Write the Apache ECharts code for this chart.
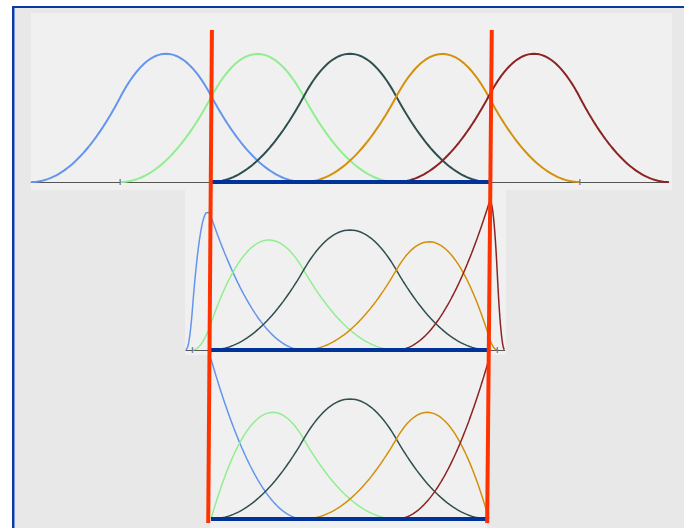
<!DOCTYPE html>
<html>
<head>
<meta charset="utf-8">
<script src="https://cdn.jsdelivr.net/npm/echarts@6/dist/echarts.min.js"></script>
<style>
  html, body { margin: 0; padding: 0; background: #ffffff; }
  #chart { width: 684px; height: 528px; }
</style>
</head>
<body>
<div id="chart"></div>
<script>
// Quadratic B-spline basis functions N0..N4 over three knot vectors.
const DEGREE = 2;
const basisNames = ['N0', 'N1', 'N2', 'N3', 'N4'];
const basisColors = ['#6495ed', '#90ee90', '#2f4f4f', '#d4900a', '#8b2323'];

// Knot vectors (parameter units); the valid domain is [0, 3].
const knotsUniform  = [-1.94, -0.98, 0, 1, 2, 3, 3.98, 4.94];
const knotsSqueezed = [-0.27, -0.2, 0, 1, 2, 3, 3.09, 3.17];
const knotsClamped  = [0, 0, 0, 1, 2, 3, 3, 3];
const domain = [0, 3];

// Domain boundary strokes spanning all three rows: [u, fraction of height].
const domainLeftEdge  = [[0.01, 1], [-0.03, 0]];
const domainRightEdge = [[3.03, 1], [2.98, 0]];

// Cox–de Boor recursion
function basis(knots, i, p, x) {
  if (p === 0) return (x >= knots[i] && x < knots[i + 1]) ? 1 : 0;
  let a = 0, b = 0;
  const d1 = knots[i + p] - knots[i];
  const d2 = knots[i + p + 1] - knots[i + 1];
  if (d1 > 0) a = (x - knots[i]) / d1 * basis(knots, i, p - 1, x);
  if (d2 > 0) b = (knots[i + p + 1] - x) / d2 * basis(knots, i + 1, p - 1, x);
  return a + b;
}

function curve(knots, i) {
  const lo = knots[i], hi = knots[i + DEGREE + 1];
  const n = 200, pts = [];
  for (let k = 0; k <= n; k++) {
    let x = lo + (hi - lo) * k / n;
    if (k === n) x = hi - 1e-9;
    pts.push([x, basis(knots, i, DEGREE, x)]);
  }
  return pts;
}

const PX_PER_U = 92.67, ORIGIN_X = 211;
function gridFor(minU, maxU, top, height) {
  return {
    left: ORIGIN_X + minU * PX_PER_U,
    width: (maxU - minU) * PX_PER_U,
    top: top, height: height,
    containLabel: false
  };
}

const rows = [
  { knots: knotsUniform,  top: 11,  height: 171, lw: 2,   axis: true,  ticks: true },
  { knots: knotsSqueezed, top: 190, height: 160, lw: 1.5, axis: true,  ticks: true },
  { knots: knotsClamped,  top: 359, height: 160, lw: 1.5, axis: false, ticks: false }
];

const grids = [], xAxes = [], yAxes = [], series = [];
rows.forEach((r, gi) => {
  const k = r.knots;
  grids.push(gridFor(k[0], k[k.length - 1], r.top, r.height));
  xAxes.push({
    type: 'value', gridIndex: gi, min: k[0], max: k[k.length - 1],
    axisLine: { show: r.axis, lineStyle: { color: '#555555', width: 1 } },
    axisTick: { show: false }, axisLabel: { show: false }, splitLine: { show: false }
  });
  yAxes.push({
    type: 'value', gridIndex: gi, min: 0, max: 1, show: false,
    splitLine: { show: false }
  });
  basisNames.forEach((name, i) => {
    series.push({
      name: name, type: 'line', xAxisIndex: gi, yAxisIndex: gi,
      data: curve(k, i), showSymbol: false, smooth: false, z: 3,
      lineStyle: { color: basisColors[i], width: r.lw }
    });
  });
  series.push({
    type: 'line', xAxisIndex: gi, yAxisIndex: gi, z: 4, showSymbol: false,
    data: [[domain[0], 0], [domain[1], 0]],
    lineStyle: { color: '#003399', width: 4 }
  });
  if (r.ticks) {
    series.push({
      type: 'scatter', xAxisIndex: gi, yAxisIndex: gi, z: 5,
      symbol: 'rect', symbolSize: [1.5, 6],
      itemStyle: { color: '#6a6aa8' },
      data: [[k[1], 0], [k[k.length - 2], 0]]
    });
  }
});

// Overlay grid for the full-height domain boundaries
grids.push(gridFor(-1, 4, 30, 493));
xAxes.push({ type: 'value', gridIndex: 3, min: -1, max: 4, show: false, splitLine: { show: false } });
yAxes.push({ type: 'value', gridIndex: 3, min: 0, max: 1, show: false, splitLine: { show: false } });
[domainLeftEdge, domainRightEdge].forEach(edge => {
  series.push({
    type: 'line', xAxisIndex: 3, yAxisIndex: 3, z: 6, showSymbol: false,
    data: edge, lineStyle: { color: '#ff3300', width: 4 }
  });
});

const chart = echarts.init(document.getElementById('chart'), null, { renderer: 'canvas' });
chart.setOption({
  animation: false,
  backgroundColor: '#ffffff',
  graphic: [
    { type: 'rect', z: -10, shape: { x: 13, y: 7, width: 700, height: 560 },
      style: { fill: '#e8e8e8', stroke: '#0b3a9c', lineWidth: 2 } },
    { type: 'line', z: -9, shape: { x1: 14.5, y1: 8, x2: 14.5, y2: 528 },
      style: { stroke: '#7b9be0', lineWidth: 1 } },
    { type: 'rect', z: -8, shape: { x: 31, y: 13, width: 641, height: 177 },
      style: { fill: '#f0f0f0' } },
    { type: 'rect', z: -8, shape: { x: 185, y: 190, width: 321, height: 165 },
      style: { fill: '#f0f0f0' } },
    { type: 'rect', z: -8, shape: { x: 210, y: 355, width: 277, height: 173 },
      style: { fill: '#f0f0f0' } }
  ],
  grid: grids,
  xAxis: xAxes,
  yAxis: yAxes,
  series: series
});
</script>
</body>
</html>
